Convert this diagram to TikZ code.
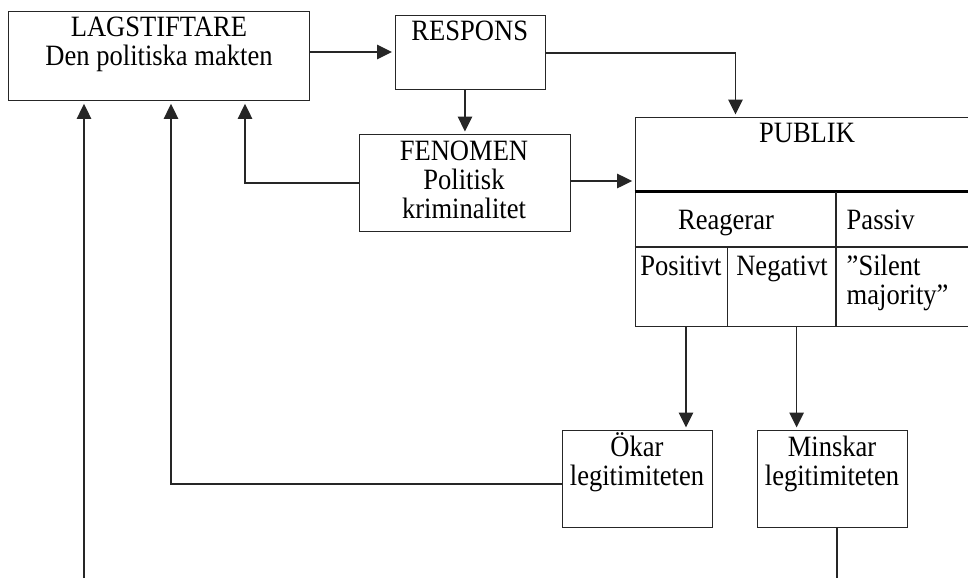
\documentclass[tikz,border=0pt]{standalone}
\usepackage{fontspec}
\setmainfont{Liberation Serif}
\usetikzlibrary{arrows.meta}
\newcommand{\sqz}[1]{\scalebox{0.9}[1]{#1}}
\begin{document}
\begin{tikzpicture}[x=1pt,y=-1pt,
  line width=1.4pt, draw=black!85,
  boxst/.style={draw, rectangle, anchor=north west, inner sep=0pt},
  txt/.style={inner sep=0pt, align=center, font=\fontsize{29.5}{33}\selectfont},
  arr/.style={-{Triangle[length=15pt,width=14.5pt]}, shorten >=2.5pt}]
\useasboundingbox (0,0) rectangle (968,578);
\clip (0,0) rectangle (968,578);
% boxes
\node[boxst, minimum width=301pt, minimum height=89pt] (lag) at (8,11) {};
\node[boxst, minimum width=150.5pt, minimum height=74pt] (resp) at (394.5,15) {};
\node[boxst, minimum width=210.5pt, minimum height=97pt] (fen) at (359,134) {};
\node[boxst, minimum width=400pt, minimum height=209pt] (pub) at (634.6,117) {};
\node[boxst, minimum width=150pt, minimum height=97pt] (oek) at (562,430) {};
\node[boxst, minimum width=150pt, minimum height=97pt] (min) at (757,430) {};
% texts
\node[txt, anchor=base] (t1) at (159,37) {\sqz{LAGSTIFTARE}};
\node[txt, anchor=base] (t2) at (159,65) {\sqz{Den politiska makten}};
\node[txt, anchor=base] (t3) at (469.75,41) {\sqz{RESPONS}};
\node[txt, anchor=base] (t4) at (464,160) {\sqz{FENOMEN}};
\node[txt, anchor=base] (t5) at (464,189) {\sqz{Politisk}};
\node[txt, anchor=base] (t6) at (464,218) {\sqz{kriminalitet}};
\node[txt, anchor=base] (t7) at (807,142) {\sqz{PUBLIK}};
\node[txt, anchor=base] (t8) at (726,229) {\sqz{Reagerar}};
\node[txt, anchor=base west] (t9) at (846,229) {\sqz{Passiv}};
\node[txt, anchor=base] (t10) at (681,275) {\sqz{Positivt}};
\node[txt, anchor=base] (t11) at (782,275) {\sqz{Negativt}};
\node[txt, anchor=base west] (t12) at (846,275) {\sqz{”Silent}};
\node[txt, anchor=base west] (t13) at (846,304) {\sqz{majority”}};
\node[txt, anchor=base] (t14) at (637,456) {\sqz{Ökar}};
\node[txt, anchor=base] (t15) at (637,485) {\sqz{legitimiteten}};
\node[txt, anchor=base] (t16) at (832,456) {\sqz{Minskar}};
\node[txt, anchor=base] (t17) at (832,485) {\sqz{legitimiteten}};
% PUBLIK inner grid
\coordinate (g1) at (634.6,191.5);
\coordinate (g2) at (1000,191.5);
\coordinate (g3) at (634.6,247);
\coordinate (g4) at (1000,247);
\coordinate (v1a) at (836,191.5);
\coordinate (v1b) at (836,326);
\coordinate (v2a) at (727.6,247);
\coordinate (v2b) at (727.6,326);
\draw[line width=2.8pt, draw=black] (g1) -- (g2);
\draw (g3) -- (g4);
\draw (v1a) -- (v1b);
\draw (v2a) -- (v2b);
% connectors
\coordinate (b1) at (84,578);
\coordinate (b2) at (837,578);
\draw[arr] (lag.east |- 0,52) -- (resp.west |- 0,52);
\draw[arr] (resp.east |- 0,53) -| (pub.north -| 735.5,0);
\draw[arr] (resp.south -| fen.north) -- (fen.north);
\draw[arr] (fen.east |- 0,181) -- (pub.west |- 0,181);
\draw[arr] (fen.west |- 0,183) -| (lag.south -| 245,0);
\draw[arr] (oek.west |- 0,484) -| (lag.south -| 171,0);
\draw[arr] (b1) -- (lag.south -| b1);
\draw[arr] (pub.south -| 686,0) -- (oek.north -| 686,0);
\draw[arr] (pub.south -| 796.6,0) -- (min.north -| 796.6,0);
\draw (min.south -| b2) -- (b2);
\end{tikzpicture}
\end{document}
